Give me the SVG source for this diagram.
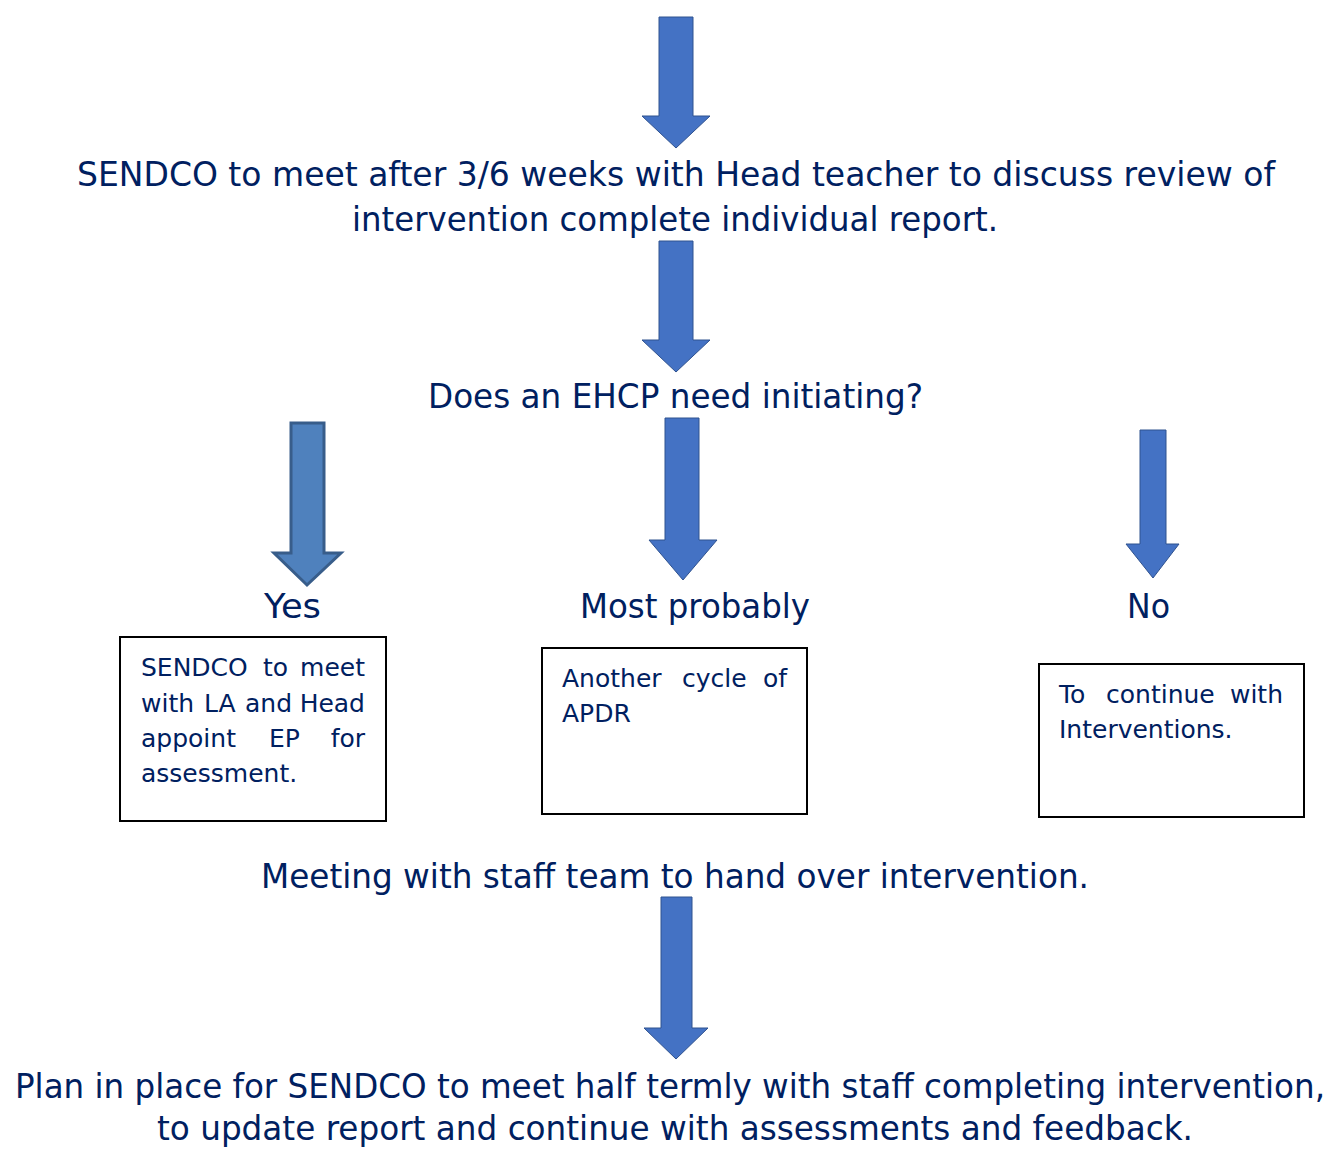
<svg xmlns="http://www.w3.org/2000/svg" width="1338" height="1149" viewBox="0 0 1338 1149">
<style>
.t{font-family:"DejaVu Sans","Liberation Sans",sans-serif;fill:#002060}
.big{font-size:33px}
.box-t{font-size:25px}
.end{text-anchor:end}
.arrow{fill:#4472C4;stroke:#2F528F;stroke-width:1}
.arrow2{fill:#4F81BD;stroke:#385D8A;stroke-width:3}
.box{fill:#fff;stroke:#000;stroke-width:2}
</style>
<rect width="1338" height="1149" fill="#fff"/>
<g id="connectors">
<polygon class="arrow" points="659,17 693,17 693,116 710,116 676,148 642,116 659,116"/>
<polygon class="arrow" points="659,241 693,241 693,340 710,340 676,372 642,340 659,340"/>
<polygon class="arrow2" points="291,423 324,423 324,553 341,553 307,585 274,553 291,553"/>
<polygon class="arrow" points="665,418 699,418 699,540 717,540 683,580 649,540 665,540"/>
<polygon class="arrow" points="1140,430 1166,430 1166,544 1179,544 1153,578 1126,544 1140,544"/>
<polygon class="arrow" points="661,897 692,897 692,1028 708,1028 676,1059 644,1028 661,1028"/>
</g>
<g id="review">
<text class="t big" x="77" y="186" textLength="1198" lengthAdjust="spacingAndGlyphs">SENDCO to meet after 3/6 weeks with Head teacher to discuss review of</text>
<text class="t big" x="352" y="231" textLength="646" lengthAdjust="spacingAndGlyphs">intervention complete individual report.</text>
</g>
<g id="question">
<text class="t big" x="428" y="408" textLength="495" lengthAdjust="spacingAndGlyphs">Does an EHCP need initiating?</text>
</g>
<g id="yes-label">
<text class="t big" x="264" y="618" textLength="57" lengthAdjust="spacingAndGlyphs">Yes</text>
</g>
<g id="probably-label">
<text class="t big" x="580" y="618" textLength="230" lengthAdjust="spacingAndGlyphs">Most probably</text>
</g>
<g id="no-label">
<text class="t big" x="1127" y="618" textLength="43" lengthAdjust="spacingAndGlyphs">No</text>
</g>
<g id="yes-box">
<rect class="box" x="120" y="637" width="266" height="184"/>
<text class="t box-t" x="141" y="676">SENDCO</text>
<text class="t box-t" x="263" y="676">to</text>
<text class="t box-t end" x="365" y="676">meet</text>
<text class="t box-t" x="141" y="712">with</text>
<text class="t box-t" x="204" y="712">LA</text>
<text class="t box-t" x="245" y="712">and</text>
<text class="t box-t end" x="365" y="712">Head</text>
<text class="t box-t" x="141" y="747">appoint</text>
<text class="t box-t" x="269" y="747">EP</text>
<text class="t box-t end" x="365" y="747">for</text>
<text class="t box-t" x="141" y="782">assessment.</text>
</g>
<g id="probably-box">
<rect class="box" x="542" y="648" width="265" height="166"/>
<text class="t box-t" x="562" y="687">Another</text>
<text class="t box-t" x="682" y="687">cycle</text>
<text class="t box-t end" x="787" y="687">of</text>
<text class="t box-t" x="562" y="722">APDR</text>
</g>
<g id="no-box">
<rect class="box" x="1039" y="664" width="265" height="153"/>
<text class="t box-t" x="1059" y="703">To</text>
<text class="t box-t" x="1106" y="703">continue</text>
<text class="t box-t end" x="1283" y="703">with</text>
<text class="t box-t" x="1059" y="738">Interventions.</text>
</g>
<g id="handover">
<text class="t big" x="261" y="888" textLength="828" lengthAdjust="spacingAndGlyphs">Meeting with staff team to hand over intervention.</text>
</g>
<g id="plan">
<text class="t big" x="15" y="1098" textLength="1310" lengthAdjust="spacingAndGlyphs">Plan in place for SENDCO to meet half termly with staff completing intervention,</text>
<text class="t big" x="157" y="1140" textLength="1036" lengthAdjust="spacingAndGlyphs">to update report and continue with assessments and feedback.</text>
</g>
</svg>
